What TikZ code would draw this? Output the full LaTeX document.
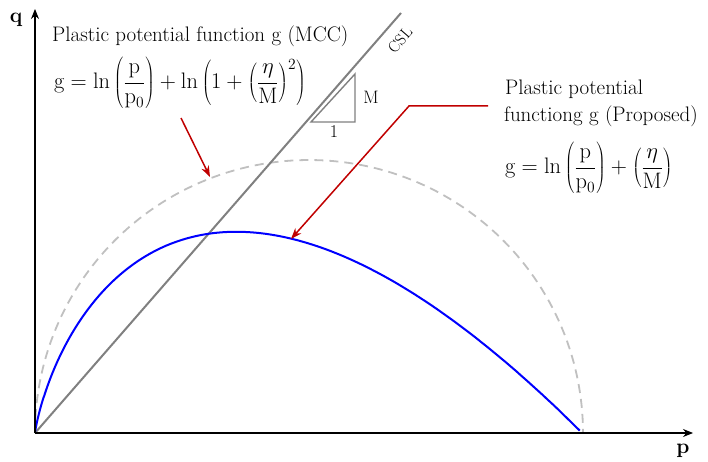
\documentclass[tikz,border=0pt]{standalone}
\usetikzlibrary{arrows.meta}
\definecolor{csl}{RGB}{128,128,128}
\definecolor{dashgray}{RGB}{192,192,192}
\definecolor{arrred}{RGB}{192,0,0}
\definecolor{curveblue}{RGB}{0,0,255}
\begin{document}
\begin{tikzpicture}[x=1pt,y=-1pt,
  lbl/.style={font=\fontsize{21}{25}\selectfont, inner sep=0pt},
  eqlbl/.style={font=\fontsize{21}{25}\selectfont, inner sep=0pt, scale=1.08, transform shape},
  smalllbl/.style={font=\fontsize{16}{19}\selectfont, inner sep=0pt},
  axislbl/.style={font=\fontsize{21}{25}\selectfont\bfseries, inner sep=0pt},
  axisline/.style={line width=1.1pt, -{Stealth[length=10pt,width=8pt]}},
  redarrow/.style={draw=arrred, line width=1.5pt, -{Stealth[length=11pt,width=8pt]}},
  cslline/.style={draw=csl, line width=2pt},
  tri/.style={draw=csl, line width=1.4pt},
  mccline/.style={draw=dashgray, line width=1.8pt, dash pattern=on 9pt off 6pt},
  propline/.style={draw=curveblue, line width=2pt}]
\useasboundingbox (0,0) rectangle (708,462);

\coordinate (O) at (35,433);
\coordinate (Ytop) at (35,9);
\coordinate (Xend) at (693,433);
\coordinate (CSLtop) at (401,13);

% MCC ellipse (dashed)
\draw[mccline] plot[domain=180:0, samples=120] ({309+274*cos(\x)},{433-273*sin(\x)});

% CSL line
\draw[cslline] (O) -- (CSLtop);

% proposed curve  (p = p0 s^2, q = p ln(p0/p))
\draw[propline] plot[domain=0.005:1, samples=200] ({35+547*\x*\x},{433+1094*\x*\x*ln(\x)});

% axes
\draw[axisline] (O) -- (Ytop);
\draw[axisline] (O) -- (Xend);
\node[axislbl] (qlbl) at (16,20) {q};
\node[axislbl] (plbl) at (683,451) {p};

% slope triangle
\coordinate (t1) at (311,122);
\coordinate (t2) at (355,122);
\coordinate (t3) at (355,74);
\draw[tri] (t1) -- (t2) -- (t3) -- cycle;
\node[lbl, font=\fontsize{18}{21}\selectfont] (Mlbl) at (371,97) {M};
\node[lbl, font=\fontsize{18}{21}\selectfont] (onelbl) at (334,132) {1};

% CSL label
\node[smalllbl, rotate=49] (csllbl) at (400,40) {CSL};

% MCC texts
\node[lbl, anchor=base west] (mcctxt) at (52,42) {Plastic potential function g (MCC)};
\node[eqlbl, anchor=west] (mcceq) at (54,83)
  {$\displaystyle \mathrm{g}=\ln\left(\frac{\mathrm{p}}{\mathrm{p}_0}\right)+\ln\left(1+\left(\frac{\eta}{\mathrm{M}}\right)^{2}\right)$};

% proposed texts
\node[lbl, anchor=base west] (proptxt1) at (505,95) {Plastic potential};
\node[lbl, anchor=base west] (proptxt2) at (504,122) {functiong g (Proposed)};
\node[eqlbl, anchor=west] (propeq) at (505,168)
  {$\displaystyle \mathrm{g}=\ln\left(\frac{\mathrm{p}}{\mathrm{p}_0}\right)+\left(\frac{\eta}{\mathrm{M}}\right)$};

% red arrows
\coordinate (r1s) at (181,118);
\coordinate (r1e) at (210,177);
\draw[redarrow] (r1s) -- (r1e);
\coordinate (r2s) at (488,106);
\coordinate (r2m) at (409,106);
\coordinate (r2e) at (291,239);
\draw[redarrow] (r2s) -- (r2m) -- (r2e);
\end{tikzpicture}
\end{document}
